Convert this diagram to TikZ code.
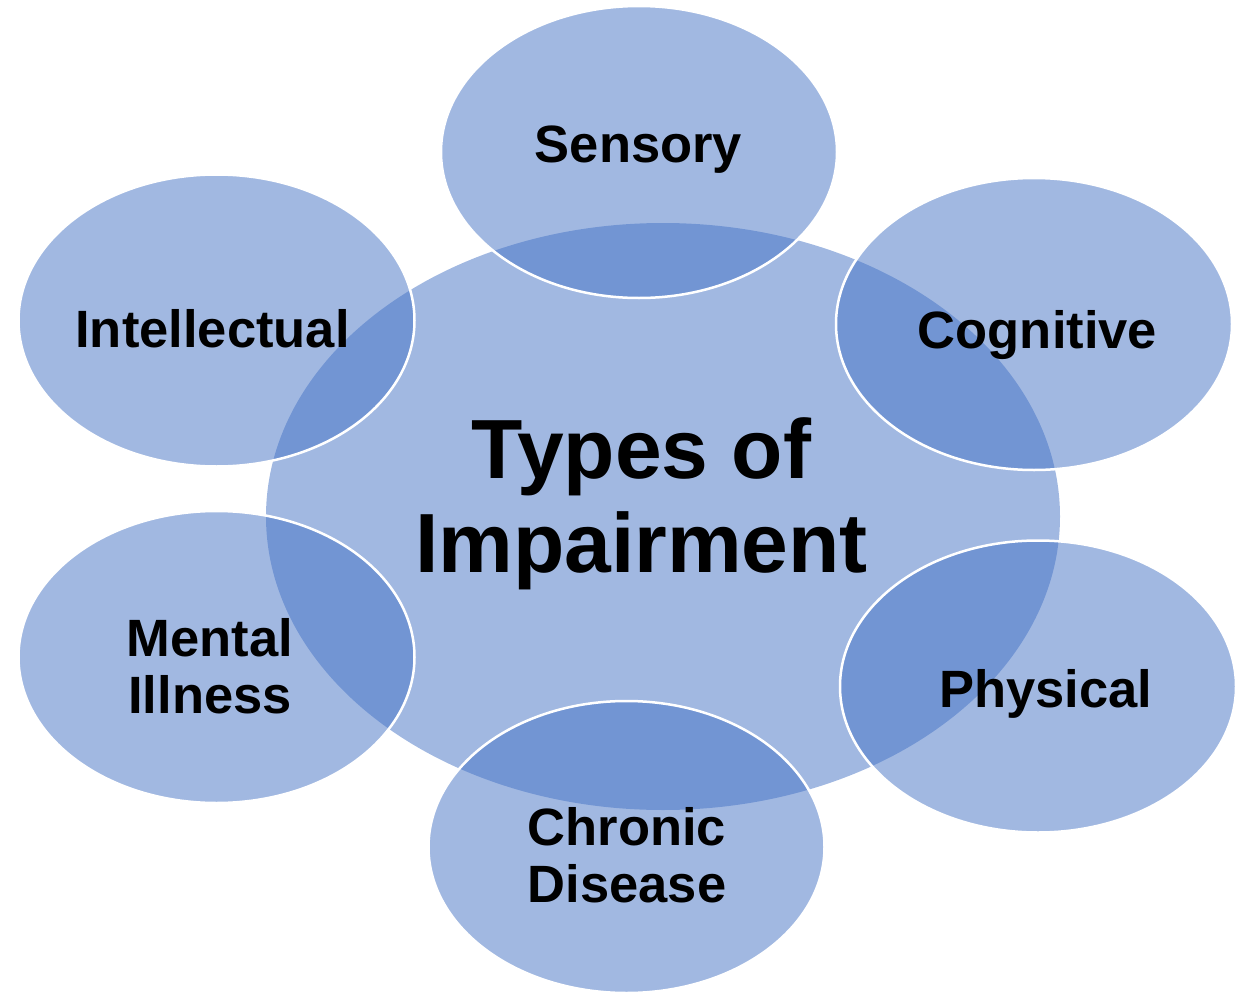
\documentclass[tikz,border=0pt]{standalone}
\usepackage{fontspec}
\setmainfont{Liberation Sans}
\usetikzlibrary{shapes.geometric}
\definecolor{acc}{HTML}{4472C4}
\tikzset{
  hub/.style={ellipse, fill=acc, fill opacity=0.5, draw=none, inner sep=0pt,
    minimum width=794pt, minimum height=587pt},
  petal/.style={ellipse, fill=acc, fill opacity=0.5, draw=white, draw opacity=1,
    line width=2.5pt, inner sep=0pt, minimum width=396pt, minimum height=292pt},
  lbl/.style={text=black, inner sep=0pt, font=\bfseries\fontsize{52.5}{57}\selectfont, align=center},
  biglbl/.style={text=black, inner sep=0pt, font=\bfseries\fontsize{84}{94}\selectfont, align=center}
}
\begin{document}
\begin{tikzpicture}[x=1pt,y=-1pt]
\useasboundingbox (0,0) rectangle (1235,993);
\node[hub] (hub) at (663,516.5) {};
\node[petal] (sens) at (639,152) {};
\node[petal] (cogn) at (1034,324) {};
\node[petal] (intl) at (216.5,320.5) {};
\node[petal] (ment) at (216.5,657) {};
\node[petal] (phys) at (1038,686.5) {};
\node[petal] (chron) at (626.5,847) {};
\node[biglbl] (thub) at (641.5,503.5) {Types of\\Impairment};
\node[lbl, anchor=base] (tsens) at (638.5,162) {Sensory};
\node[lbl, anchor=base] (tcogn) at (1037.5,348) {Cognitive};
\node[lbl, anchor=base] (tintl) at (212.5,347) {Intellectual};
\node[lbl] (tment) at (210,666) {Mental\\Illness};
\node[lbl, anchor=base] (tphys) at (1046,707) {Physical};
\node[lbl] (tchron) at (627,855.5) {Chronic\\Disease};
\end{tikzpicture}
\end{document}
